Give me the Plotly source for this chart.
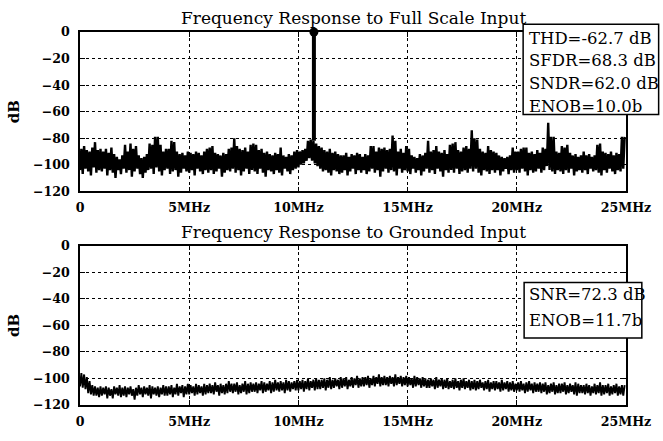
import numpy as np
import plotly.graph_objects as go
from plotly.subplots import make_subplots

# ---------------- data ----------------
BIN_MHZ = 0.125  # spacing of the decimated spectrum bins

# Full-scale input: upper (peak) and lower (trough) values of the noise floor, dB
top_peak_db = [
    -88, -86, -89, -90, -87, -83, -89, -88,
    -90, -88, -91, -87, -92, -94, -96, -93,
    -85, -90, -84, -88, -86, -93, -95, -94,
    -92, -84, -85, -79, -79, -85, -90, -88,
    -88, -82, -83, -90, -92, -91, -93, -90,
    -91, -92, -90, -91, -93, -90, -88, -87,
    -86, -91, -92, -93, -91, -92, -88, -87,
    -80, -86, -88, -89, -87, -90, -85, -84,
    -85, -89, -88, -91, -90, -92, -93, -91,
    -92, -87, -93, -94, -92, -93, -90, -89,
    -90, -89, -88, -82, -81, -82, -84, -86,
    -87, -89, -90, -88, -91, -90, -92, -93,
    -93, -91, -94, -92, -93, -91, -92, -94,
    -92, -93, -86, -86, -90, -87, -88, -87,
    -89, -88, -78, -82, -90, -88, -91, -86,
    -88, -93, -94, -95, -92, -93, -91, -82,
    -90, -89, -86, -90, -91, -89, -92, -85,
    -84, -83, -89, -90, -87, -86, -88, -74,
    -80, -81, -88, -90, -91, -86, -89, -90,
    -91, -93, -94, -95, -94, -93, -87, -90,
    -90, -88, -87, -87, -91, -90, -92, -89,
    -91, -87, -88, -68.3, -79, -79, -90, -91,
    -86, -87, -85, -91, -93, -92, -94, -93,
    -90, -93, -92, -94, -93, -85, -84, -90,
    -91, -92, -90, -93, -91, -92, -79, -79,
]
top_trough_db = [
    -104, -107, -103, -105, -108, -102, -106, -104,
    -105, -103, -108, -104, -106, -110, -104, -107,
    -103, -106, -104, -109, -105, -103, -107, -110,
    -106, -104, -103, -107, -102, -105, -108, -104,
    -103, -107, -105, -104, -109, -106, -103, -105,
    -106, -104, -108, -103, -105, -107, -104, -106,
    -104, -107, -105, -103, -109, -106, -104, -105,
    -103, -106, -104, -108, -105, -103, -107, -104,
    -105, -107, -103, -106, -109, -104, -105, -107,
    -104, -106, -108, -103, -105, -107, -104, -103,
    -102, -100, -99, -97, -95, -97, -99, -101,
    -103, -105, -104, -106, -108, -104, -105, -107,
    -106, -104, -108, -105, -103, -107, -104, -106,
    -104, -107, -105, -103, -106, -104, -109, -105,
    -103, -106, -104, -105, -108, -103, -106, -104,
    -105, -107, -103, -106, -104, -108, -105, -103,
    -106, -104, -107, -103, -105, -109, -104, -106,
    -104, -106, -103, -107, -105, -104, -106, -103,
    -105, -103, -106, -108, -104, -105, -107, -104,
    -106, -104, -108, -105, -103, -107, -104, -106,
    -104, -106, -103, -105, -108, -104, -106, -105,
    -103, -106, -104, -101, -104, -105, -107, -104,
    -105, -107, -104, -106, -103, -108, -105, -104,
    -106, -104, -107, -103, -105, -104, -106, -108,
    -104, -106, -103, -105, -107, -104, -105, -103,
]
fund_mhz = [10.71]
fund_db = [0.0]
fund_base_db = [-82.0]

# Grounded input: upper and lower values of the noise floor, dB
bot_peak_db = [
    -96, -97, -99, -102, -105, -106, -107, -106,
    -107, -106, -107, -108, -106, -107, -105, -107,
    -106, -107, -106, -108, -107, -105, -107, -106,
    -107, -105, -106, -107, -106, -107, -105, -106,
    -106, -105, -107, -104, -106, -105, -106, -104,
    -105, -106, -104, -105, -106, -104, -105, -104,
    -105, -103, -105, -104, -105, -104, -102, -104,
    -104, -103, -105, -104, -102, -104, -103, -104,
    -103, -104, -102, -103, -104, -102, -103, -101,
    -103, -102, -103, -101, -102, -103, -102, -101,
    -102, -101, -102, -100, -102, -101, -100, -101,
    -101, -100, -101, -99, -101, -100, -101, -99,
    -100, -99, -101, -99, -100, -98, -100, -99,
    -99, -98, -100, -98, -99, -97, -99, -98,
    -99, -98, -99, -97, -99, -98, -99, -98,
    -99, -100, -98, -99, -100, -99, -100, -101,
    -100, -101, -99, -101, -100, -101, -100, -102,
    -101, -100, -102, -101, -100, -102, -101, -102,
    -101, -102, -101, -103, -102, -101, -103, -102,
    -102, -103, -101, -103, -102, -103, -102, -104,
    -103, -102, -104, -103, -102, -104, -103, -104,
    -103, -104, -103, -105, -104, -103, -105, -104,
    -104, -103, -105, -104, -105, -103, -104, -105,
    -105, -104, -105, -106, -104, -105, -103, -105,
    -105, -104, -106, -105, -104, -106, -105, -105,
]
bot_trough_db = [
    -106, -107, -108, -111, -112, -113, -113, -114,
    -113, -112, -115, -113, -115, -112, -113, -114,
    -113, -114, -112, -113, -116, -113, -112, -114,
    -112, -113, -115, -112, -113, -114, -112, -113,
    -113, -112, -114, -112, -113, -111, -114, -112,
    -112, -111, -113, -112, -111, -113, -112, -111,
    -111, -112, -110, -113, -111, -112, -111, -110,
    -111, -110, -112, -111, -110, -112, -111, -110,
    -110, -111, -109, -111, -110, -109, -111, -110,
    -109, -110, -109, -111, -109, -110, -108, -109,
    -109, -108, -110, -108, -109, -107, -109, -108,
    -108, -107, -109, -107, -108, -107, -106, -108,
    -107, -106, -108, -106, -107, -105, -107, -106,
    -106, -105, -107, -105, -106, -104, -106, -105,
    -105, -106, -104, -106, -105, -104, -106, -105,
    -106, -105, -107, -106, -105, -107, -106, -107,
    -107, -106, -108, -107, -106, -108, -107, -108,
    -107, -108, -107, -109, -107, -108, -107, -109,
    -108, -109, -108, -107, -109, -108, -110, -108,
    -109, -108, -110, -109, -108, -110, -109, -110,
    -109, -110, -109, -111, -110, -109, -111, -110,
    -110, -111, -110, -112, -111, -110, -112, -111,
    -111, -110, -112, -111, -110, -112, -113, -111,
    -111, -112, -111, -113, -111, -112, -111, -113,
    -112, -111, -113, -112, -111, -113, -112, -113,
]

x_tick_vals = [0, 5, 10, 15, 20, 25]
x_tick_text = ["0", "5MHz", "10MHz", "15MHz", "20MHz", "25MHz"]
y_tick_vals = [0, -20, -40, -60, -80, -100, -120]
y_tick_text = ["0", "\u221220", "\u221240", "\u221260", "\u221280", "\u2212100", "\u2212120"]

top_title = "Frequency Response to Full Scale Input"
bot_title = "Frequency Response to Grounded Input"
top_box = ["THD=-62.7 dB", "SFDR=68.3 dB", "SNDR=62.0 dB", "ENOB=10.0b"]
bot_box = ["SNR=72.3 dB", "ENOB=11.7b"]

SERIF = "DejaVu Serif"
fig = make_subplots(rows=2, cols=1, vertical_spacing=56 / 384)


def add_trace_zigzag(troughs, peaks, row, width):
    n = len(peaks)
    f = np.arange(n) * BIN_MHZ
    xs = np.empty(2 * n)
    ys = np.empty(2 * n)
    xs[0::2] = f
    xs[1::2] = f + BIN_MHZ / 2
    ys[0::2] = troughs
    ys[1::2] = peaks
    fig.add_trace(go.Scatter(x=xs, y=ys, mode="lines",
                             line=dict(color="black", width=width),
                             showlegend=False, hoverinfo="skip"), row=row, col=1)


add_trace_zigzag(top_trough_db, top_peak_db, 1, 2.4)
fig.add_trace(go.Scatter(x=fund_mhz * 2, y=fund_base_db + fund_db, mode="lines",
                         line=dict(color="black", width=4), showlegend=False), row=1, col=1)
fig.add_trace(go.Scatter(x=fund_mhz, y=fund_db, mode="markers", cliponaxis=False,
                         marker=dict(color="black", size=9), showlegend=False), row=1, col=1)
add_trace_zigzag(bot_trough_db, bot_peak_db, 2, 1.9)

tick_font = dict(family=SERIF, size=12.6, color="black", weight="bold")
for r in (1, 2):
    fig.update_xaxes(row=r, col=1, range=[0, 25], tickvals=x_tick_vals, ticktext=x_tick_text,
                     showline=True, linecolor="black", linewidth=1.5, mirror="ticks",
                     ticks="inside", ticklen=5, tickcolor="black", tickwidth=1,
                     showgrid=True, gridcolor="black", gridwidth=1, griddash="dot",
                     zeroline=False, tickfont=tick_font, ticklabelstandoff=4)
    fig.update_yaxes(row=r, col=1, range=[-120, 0], tickvals=y_tick_vals, ticktext=y_tick_text,
                     showline=True, linecolor="black", linewidth=1.5, mirror="ticks",
                     ticks="inside", ticklen=5, tickcolor="black", tickwidth=1,
                     showgrid=True, gridcolor="black", gridwidth=1, griddash="dot",
                     zeroline=False, tickfont=tick_font, ticklabelstandoff=6,
                     title=dict(text="dB", font=dict(family=SERIF, size=15, color="black", weight="bold"),
                                standoff=10))

annotations = []
for ytop, title in ((1.0, top_title), (164 / 384, bot_title)):
    annotations.append(dict(text=title, xref="paper", yref="paper", x=0.5, y=ytop,
                            xanchor="center", yanchor="middle", yshift=14, showarrow=False,
                            font=dict(family=SERIF, size=17, color="black")))


def to_paper(px, py):
    return (px - 77) / 552, (416 - py) / 384


shapes = []
x0, y0 = to_paper(525, 24)
x1, y1 = to_paper(662, 117)
shapes.append(dict(type="rect", xref="paper", yref="paper", x0=x0, y0=y1, x1=x1, y1=y0,
                   line=dict(color="black", width=1.5), fillcolor="white", layer="above"))
for i, t in enumerate(top_box):
    px, py = to_paper(529, 38.5 + 23.3 * i)
    annotations.append(dict(text=t, xref="paper", yref="paper", x=px, y=py, xanchor="left",
                            yanchor="middle", showarrow=False,
                            font=dict(family=SERIF, size=16.5, color="black")))
x0, y0 = to_paper(526, 290)
x1, y1 = to_paper(645, 347)
shapes.append(dict(type="rect", xref="paper", yref="paper", x0=x0, y0=y1, x1=x1, y1=y0,
                   line=dict(color="black", width=1.5), fillcolor="white", layer="above"))
for i, t in enumerate(bot_box):
    px, py = to_paper(529, 302 + 26.5 * i)
    annotations.append(dict(text=t, xref="paper", yref="paper", x=px, y=py, xanchor="left",
                            yanchor="middle", showarrow=False,
                            font=dict(family=SERIF, size=16.5, color="black")))

fig.update_layout(width=663, height=441, margin=dict(l=77, r=34, t=32, b=25),
                  paper_bgcolor="white", plot_bgcolor="white",
                  annotations=annotations, shapes=shapes)

fig.write_html("out.html", config={"displayModeBar": False},
               post_script="document.body.style.margin='0';document.body.style.overflow='hidden';")
